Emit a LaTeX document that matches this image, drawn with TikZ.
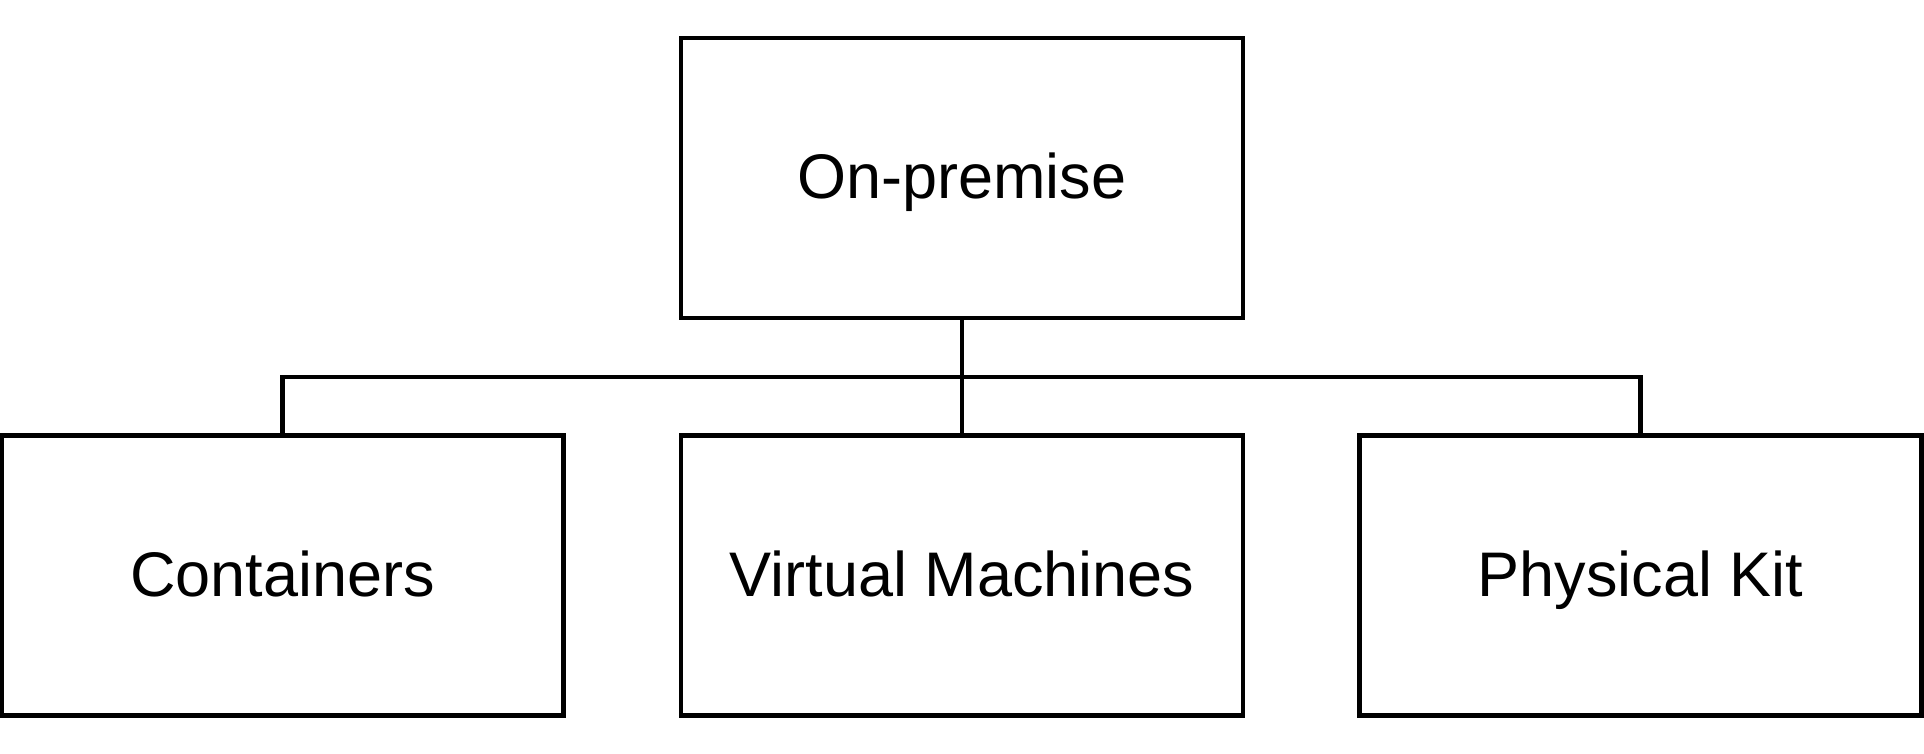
\documentclass[tikz,border=0pt]{standalone}
\usepackage{fontspec}
\setmainfont{Liberation Sans}
\begin{document}
\begin{tikzpicture}[x=0.5pt, y=-0.5pt, line width=2.3pt]
  \tikzset{
    deploybox/.style={draw, rectangle, minimum width=281pt, minimum height=140pt,
      inner sep=0pt, text height=26pt, text depth=5pt,
      font=\fontsize{31.5}{38}\selectfont}
  }
  \useasboundingbox (0,0) rectangle (1924,754);
  % Gipfel und drei Varianten darunter
  \node[deploybox] (onprem) at (962,178) {On-premise};
  \node[deploybox] (cont) at (282.5,575.5) {Containers};
  \node[deploybox] (vm) at (962,575.5) {Virtual Machines};
  \node[deploybox] (kit) at (1640.5,575.5) {Physical Kit};
  \coordinate (bar) at (962,377);
  \draw (onprem.south) -- (vm.north);
  \draw (cont.north) |- (bar) -| (kit.north);
\end{tikzpicture}
\end{document}
